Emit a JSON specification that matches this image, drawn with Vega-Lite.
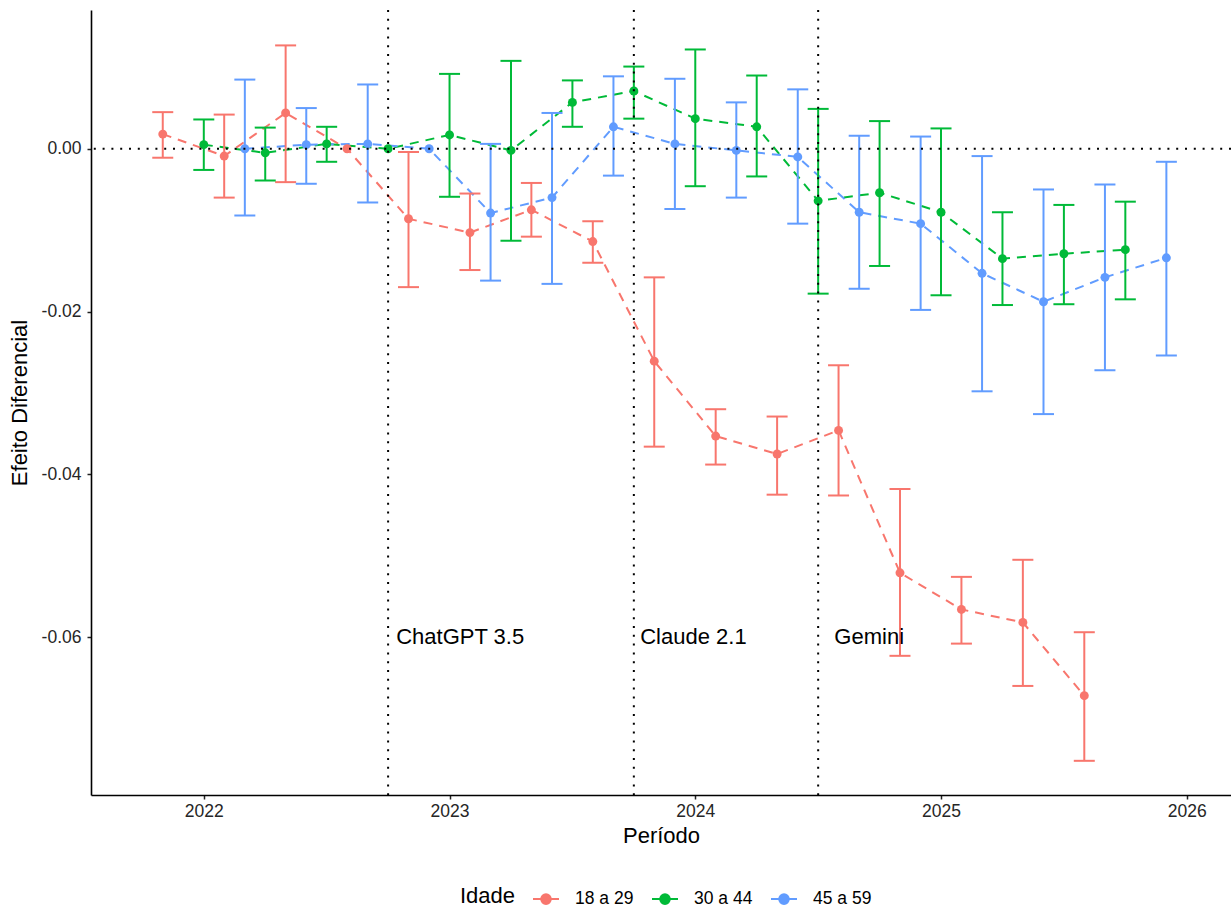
{
  "$schema": "https://vega.github.io/schema/vega-lite/v6.json",
  "autosize": {"type": "none"},
  "padding": {"left": 91, "top": 10, "right": 0, "bottom": 113},
  "width": 1140,
  "height": 785,
  "background": "white",
  "config": {
    "font": "Liberation Sans",
    "view": {"stroke": null},
    "axis": {
      "grid": false,
      "domainColor": "black",
      "domainWidth": 1.6,
      "tickColor": "#222222",
      "tickWidth": 1.5,
      "tickSize": 4,
      "labelFont": "Liberation Sans",
      "labelFontSize": 17.5,
      "labelColor": "#262626",
      "titleFont": "Liberation Sans",
      "titleFontSize": 22,
      "titleFontWeight": "normal",
      "titleColor": "black"
    }
  },
  "datasets": {
    "est": [
      {"g": "18 a 29", "x": 2021.833, "y": 0.0018, "lo": -0.0011, "hi": 0.0045},
      {"g": "18 a 29", "x": 2022.083, "y": -0.0009, "lo": -0.0060, "hi": 0.0042},
      {"g": "18 a 29", "x": 2022.333, "y": 0.0044, "lo": -0.0041, "hi": 0.0127},
      {"g": "18 a 29", "x": 2022.583, "y": 0.0, "lo": null, "hi": null},
      {"g": "18 a 29", "x": 2022.833, "y": -0.0086, "lo": -0.0170, "hi": -0.0004},
      {"g": "18 a 29", "x": 2023.083, "y": -0.0103, "lo": -0.0149, "hi": -0.0055},
      {"g": "18 a 29", "x": 2023.333, "y": -0.0075, "lo": -0.0108, "hi": -0.0042},
      {"g": "18 a 29", "x": 2023.583, "y": -0.0114, "lo": -0.0140, "hi": -0.0089},
      {"g": "18 a 29", "x": 2023.833, "y": -0.0261, "lo": -0.0366, "hi": -0.0158},
      {"g": "18 a 29", "x": 2024.083, "y": -0.0353, "lo": -0.0388, "hi": -0.0320},
      {"g": "18 a 29", "x": 2024.333, "y": -0.0375, "lo": -0.0425, "hi": -0.0329},
      {"g": "18 a 29", "x": 2024.583, "y": -0.0346, "lo": -0.0426, "hi": -0.0266},
      {"g": "18 a 29", "x": 2024.833, "y": -0.0521, "lo": -0.0623, "hi": -0.0418},
      {"g": "18 a 29", "x": 2025.083, "y": -0.0566, "lo": -0.0608, "hi": -0.0526},
      {"g": "18 a 29", "x": 2025.333, "y": -0.0582, "lo": -0.0660, "hi": -0.0505},
      {"g": "18 a 29", "x": 2025.583, "y": -0.0672, "lo": -0.0752, "hi": -0.0594},
      {"g": "30 a 44", "x": 2022.0, "y": 0.0005, "lo": -0.0026, "hi": 0.0036},
      {"g": "30 a 44", "x": 2022.25, "y": -0.0005, "lo": -0.0039, "hi": 0.0026},
      {"g": "30 a 44", "x": 2022.5, "y": 0.0006, "lo": -0.0016, "hi": 0.0027},
      {"g": "30 a 44", "x": 2022.75, "y": 0.0, "lo": null, "hi": null},
      {"g": "30 a 44", "x": 2023.0, "y": 0.0017, "lo": -0.0059, "hi": 0.0092},
      {"g": "30 a 44", "x": 2023.25, "y": -0.0002, "lo": -0.0113, "hi": 0.0108},
      {"g": "30 a 44", "x": 2023.5, "y": 0.0057, "lo": 0.0027, "hi": 0.0084},
      {"g": "30 a 44", "x": 2023.75, "y": 0.0071, "lo": 0.0037, "hi": 0.0101},
      {"g": "30 a 44", "x": 2024.0, "y": 0.0037, "lo": -0.0046, "hi": 0.0122},
      {"g": "30 a 44", "x": 2024.25, "y": 0.0027, "lo": -0.0034, "hi": 0.0090},
      {"g": "30 a 44", "x": 2024.5, "y": -0.0064, "lo": -0.0178, "hi": 0.0049},
      {"g": "30 a 44", "x": 2024.75, "y": -0.0054, "lo": -0.0144, "hi": 0.0034},
      {"g": "30 a 44", "x": 2025.0, "y": -0.0078, "lo": -0.0180, "hi": 0.0025},
      {"g": "30 a 44", "x": 2025.25, "y": -0.0135, "lo": -0.0192, "hi": -0.0078},
      {"g": "30 a 44", "x": 2025.5, "y": -0.0129, "lo": -0.0191, "hi": -0.0069},
      {"g": "30 a 44", "x": 2025.75, "y": -0.0124, "lo": -0.0185, "hi": -0.0065},
      {"g": "45 a 59", "x": 2022.167, "y": 0.0, "lo": -0.0082, "hi": 0.0085},
      {"g": "45 a 59", "x": 2022.417, "y": 0.0005, "lo": -0.0043, "hi": 0.0050},
      {"g": "45 a 59", "x": 2022.667, "y": 0.0006, "lo": -0.0066, "hi": 0.0079},
      {"g": "45 a 59", "x": 2022.917, "y": 0.0, "lo": null, "hi": null},
      {"g": "45 a 59", "x": 2023.167, "y": -0.0079, "lo": -0.0162, "hi": 0.0006},
      {"g": "45 a 59", "x": 2023.417, "y": -0.0060, "lo": -0.0166, "hi": 0.0044},
      {"g": "45 a 59", "x": 2023.667, "y": 0.0027, "lo": -0.0033, "hi": 0.0089},
      {"g": "45 a 59", "x": 2023.917, "y": 0.0006, "lo": -0.0074, "hi": 0.0086},
      {"g": "45 a 59", "x": 2024.167, "y": -0.0002, "lo": -0.0060, "hi": 0.0057},
      {"g": "45 a 59", "x": 2024.417, "y": -0.0010, "lo": -0.0092, "hi": 0.0073},
      {"g": "45 a 59", "x": 2024.667, "y": -0.0078, "lo": -0.0172, "hi": 0.0016},
      {"g": "45 a 59", "x": 2024.917, "y": -0.0092, "lo": -0.0198, "hi": 0.0015},
      {"g": "45 a 59", "x": 2025.167, "y": -0.0153, "lo": -0.0298, "hi": -0.0009},
      {"g": "45 a 59", "x": 2025.417, "y": -0.0188, "lo": -0.0326, "hi": -0.0050},
      {"g": "45 a 59", "x": 2025.667, "y": -0.0158, "lo": -0.0272, "hi": -0.0044},
      {"g": "45 a 59", "x": 2025.917, "y": -0.0134, "lo": -0.0254, "hi": -0.0016}
    ],
    "events": [
      {"x": 2022.75, "label": "ChatGPT 3.5", "lx": 2022.783, "ly": -0.06},
      {"x": 2023.75, "label": "Claude 2.1", "lx": 2023.776, "ly": -0.06},
      {"x": 2024.5, "label": "Gemini", "lx": 2024.566, "ly": -0.06}
    ],
    "zero": [{"y": 0}]
  },
  "encoding": {
    "x": {
      "field": "x",
      "type": "quantitative",
      "scale": {"domain": [2021.541, 2026.18], "nice": false, "zero": false},
      "axis": {"title": "Período", "values": [2022, 2023, 2024, 2025, 2026], "format": "d", "labelPadding": 3, "titlePadding": 6}
    },
    "y": {
      "field": "y",
      "type": "quantitative",
      "scale": {"domain": [-0.0794, 0.01705], "nice": false, "zero": false},
      "axis": {"title": "Efeito Diferencial", "values": [0, -0.02, -0.04, -0.06], "format": ".2f", "labelExpr": "replace(datum.label, '−', '-')", "labelPadding": 6, "titlePadding": 10}
    }
  },
  "layer": [
    {
      "data": {"name": "est"},
      "mark": {"type": "line", "strokeDash": [9, 7], "strokeWidth": 2},
      "encoding": {
        "color": {
          "field": "g",
          "type": "nominal",
          "scale": {"domain": ["18 a 29", "30 a 44", "45 a 59"], "range": ["#F8766D", "#00BA38", "#619CFF"]},
          "legend": {
            "title": "Idade",
            "orient": "none",
            "direction": "horizontal",
            "legendX": 369,
            "legendY": 875,
            "titleOrient": "left",
            "titleFontSize": 22,
            "titleFontWeight": "normal",
            "titleColor": "black",
            "titlePadding": 16,
            "titleBaseline": "middle",
            "labelFontSize": 17.5,
            "labelColor": "black",
            "labelOffset": 15,
            "columnPadding": 14,
            "symbolType": "M-1,0L1,0M-0.37,0A0.37,0.37,0,1,1,0.37,0A0.37,0.37,0,1,1,-0.37,0Z",
            "symbolSize": 676,
            "symbolStrokeWidth": 2,
            "encode": {
              "symbols": {
                "update": {
                  "fill": {"scale": "color", "field": "value"},
                  "stroke": {"scale": "color", "field": "value"},
                  "strokeDash": {"value": []},
                  "opacity": {"value": 1}
                }
              }
            }
          }
        }
      }
    },
    {
      "data": {"name": "est"},
      "mark": {"type": "point", "filled": true, "size": 80, "opacity": 1},
      "encoding": {"color": {"field": "g", "type": "nominal"}}
    },
    {
      "data": {"name": "est"},
      "transform": [{"filter": "datum.lo != null"}],
      "mark": {"type": "rule", "strokeWidth": 2},
      "encoding": {
        "y": {"field": "lo", "type": "quantitative"},
        "y2": {"field": "hi"},
        "color": {"field": "g", "type": "nominal"}
      }
    },
    {
      "data": {"name": "est"},
      "transform": [{"filter": "datum.lo != null"}],
      "mark": {"type": "tick", "orient": "horizontal", "size": 21, "thickness": 2, "opacity": 1},
      "encoding": {
        "y": {"field": "lo", "type": "quantitative"},
        "color": {"field": "g", "type": "nominal"}
      }
    },
    {
      "data": {"name": "est"},
      "transform": [{"filter": "datum.hi != null"}],
      "mark": {"type": "tick", "orient": "horizontal", "size": 21, "thickness": 2, "opacity": 1},
      "encoding": {
        "y": {"field": "hi", "type": "quantitative"},
        "color": {"field": "g", "type": "nominal"}
      }
    },
    {
      "data": {"name": "zero"},
      "mark": {"type": "rule", "color": "black", "strokeWidth": 2, "strokeDash": [2, 6.8]},
      "encoding": {"y": {"field": "y", "type": "quantitative"}, "x": null}
    },
    {
      "data": {"name": "events"},
      "mark": {"type": "rule", "color": "black", "strokeWidth": 2, "strokeDash": [2, 6.8]},
      "encoding": {"x": {"field": "x", "type": "quantitative"}, "y": null}
    },
    {
      "data": {"name": "events"},
      "mark": {"type": "text", "align": "left", "baseline": "middle", "fontSize": 22, "color": "black", "font": "Liberation Sans"},
      "encoding": {
        "x": {"field": "lx", "type": "quantitative"},
        "y": {"field": "ly", "type": "quantitative"},
        "text": {"field": "label"}
      }
    }
  ]
}
